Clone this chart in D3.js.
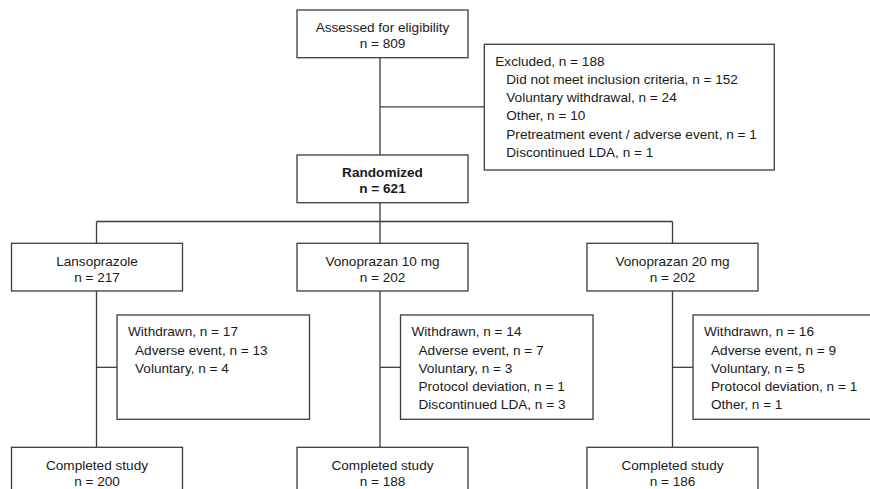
<!DOCTYPE html>
<meta charset="utf-8">
<title>Study flow</title>
<style>

body {
  margin: 0;
  background: #fff;
}

svg {
  display: block;
  font-family: "Liberation Sans", Arial, sans-serif;
  font-size: 13.6px;
}

rect {
  fill: #fff;
  stroke: #3c3c3c;
  stroke-width: 1.3px;
}

line {
  stroke: #3c3c3c;
  stroke-width: 1.3px;
}

text {
  fill: #1a1a1a;
}

</style>
<body>
<svg></svg>
<script src="https://d3js.org/d3.v7.min.js"></script>
<script>

// enrolment
var assessed = ["Assessed for eligibility", "n = 809"];
var excluded = [
  "Excluded, n = 188",
  "Did not meet inclusion criteria, n = 152",
  "Voluntary withdrawal, n = 24",
  "Other, n = 10",
  "Pretreatment event / adverse event, n = 1",
  "Discontinued LDA, n = 1"
];
var randomized = ["Randomized", "n = 621"];

// arms
var arms = ["Lansoprazole", "Vonoprazan 10 mg", "Vonoprazan 20 mg"];
var armN = [217, 202, 202];
var withdrawn = [
  ["Withdrawn, n = 17", "Adverse event, n = 13", "Voluntary, n = 4"],
  ["Withdrawn, n = 14", "Adverse event, n = 7", "Voluntary, n = 3",
   "Protocol deviation, n = 1", "Discontinued LDA, n = 3"],
  ["Withdrawn, n = 16", "Adverse event, n = 9", "Voluntary, n = 5",
   "Protocol deviation, n = 1", "Other, n = 1"]
];
var completedN = [200, 188, 186];

var width = 870,
    height = 489;

var svg = d3.select("svg").attr("width", width).attr("height", height);

var boxW = 171, boxH = 47.7,
    sideW = 192.5,
    lineH = 18.3;

// column positions
var boxX = d3.scaleOrdinal(arms, [11.5, 297, 587]),
    spineX = d3.scaleOrdinal(arms, [96.5, 380, 672.5]);

// row positions
var y = {
  assessed: 10, excludedTop: 44.3, excludedBot: 170,
  randomized: 155, split: 221.5, arm: 243.3,
  sideTop: 315, sideBot: 419.3, completed: 447.3
};

var lines = svg.append("g"),
    boxes = svg.append("g");

function hline(x1, x2, yy) {
  lines.append("line").attr("x1", x1).attr("x2", x2).attr("y1", yy).attr("y2", yy);
}
function vline(xx, y1, y2) {
  lines.append("line").attr("x1", xx).attr("x2", xx).attr("y1", y1).attr("y2", y2);
}

// centered two-line box
function centerBox(x, top, texts, bold) {
  var g = boxes.append("g");
  g.append("rect").attr("x", x).attr("y", top).attr("width", boxW).attr("height", boxH);
  g.selectAll("text")
    .data(texts)
    .join("text")
    .attr("x", x + boxW / 2)
    .attr("y", (d, i) => top + 17.5 + i * 16)
    .attr("dy", "0.35em")
    .attr("text-anchor", "middle")
    .style("font-weight", bold ? "bold" : null)
    .text(d => d);
}

// left aligned list box, first line is the header
function listBox(x, top, w, h, texts, indent) {
  var g = boxes.append("g");
  g.append("rect").attr("x", x).attr("y", top).attr("width", w).attr("height", h);
  g.selectAll("text")
    .data(texts)
    .join("text")
    .attr("x", (d, i) => x + 11 + (i ? indent : 0))
    .attr("y", (d, i) => top + 16.5 + i * lineH)
    .attr("dy", "0.35em")
    .text(d => d);
}

var mid = spineX(arms[1]);

// top part
vline(mid, y.assessed + boxH, y.randomized);
hline(mid, 484.3, 106.9);
centerBox(297, y.assessed, assessed);
listBox(484.3, y.excludedTop, 290, y.excludedBot - y.excludedTop, excluded, 11);
centerBox(297, y.randomized, randomized, true);

// split into arms
vline(mid, y.randomized + boxH, y.split);
hline(spineX(arms[0]), spineX(arms[2]), y.split);

arms.forEach(function(a, i) {
  var sx = spineX(a);
  vline(sx, y.split, y.arm);
  vline(sx, y.arm + boxH, y.completed);
  hline(sx, sx + 20.5, 367.3);
  centerBox(boxX(a), y.arm, [a, "n = " + armN[i]]);
  listBox(sx + 20.5, y.sideTop, sideW, y.sideBot - y.sideTop, withdrawn[i], 7);
  centerBox(boxX(a), y.completed, ["Completed study", "n = " + completedN[i]]);
});

</script>
</body>
